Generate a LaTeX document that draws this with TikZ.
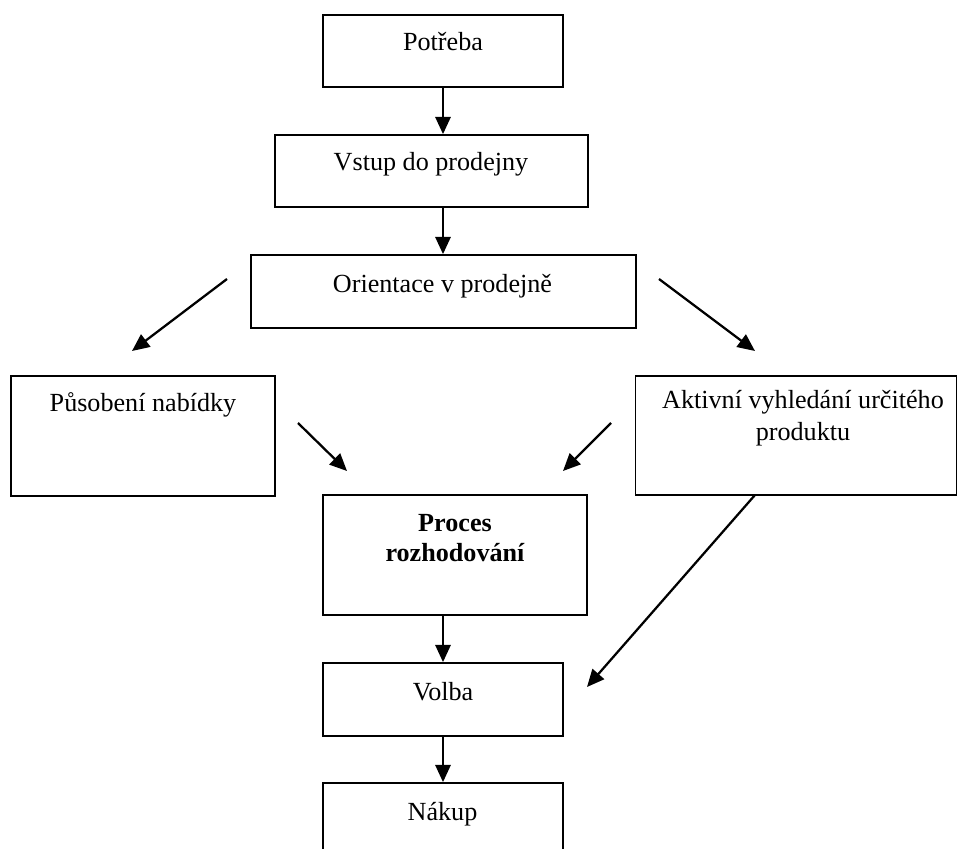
\documentclass[tikz,border=0pt]{standalone}
\usepackage{fontspec}
\setmainfont{Liberation Serif}
\usetikzlibrary{arrows.meta}

\tikzset{
  box/.style 2 args={draw, line width=1.3pt, inner sep=0pt, minimum width=#1*0.75pt, minimum height=#2*0.75pt},
  txt/.style={anchor=base, inner sep=0.75pt, align=center, font=\fontsize{19.6}{23.8}\selectfont},
  arr/.style={line width=1.7pt, -{Triangle[length=13pt,width=11.5pt]}},
}

\begin{document}
\begin{tikzpicture}[x=0.75pt,y=0.75pt,yscale=-1,xscale=1]
\useasboundingbox (0,0) rectangle (958,849);

%Shape: Rectangle
\node[box={240}{72}] (potreba) at (443,51) {};
\node[box={313}{72}] (vstup) at (431.5,171) {};
\node[box={385}{73}] (orient) at (443.5,291.5) {};
\node[box={264}{120}] (pusob) at (143,436) {};
\node[box={321}{119}] (aktiv) at (796,435.5) {};
\node[box={264}{120}] (proces) at (455,555) {};
\node[box={240}{73}] (volba) at (443,699.5) {};
\node[box={240}{72}] (nakup) at (443,819) {};

% Text Node
\node[txt] (t-potreba) at (443,51) {Potřeba};
\node[txt] (t-vstup) at (431,171) {Vstup do prodejny};
\node[txt] (t-orient) at (442.5,292) {Orientace v prodejně};
\node[txt] (t-pusob) at (143,411) {Působení nabídky};
% base = last line
\node[txt] (t-aktiv) at (803,440) {Aktivní vyhledání určitého\\produktu};
\node[txt,font=\fontsize{19.6}{22.5}\selectfont\bfseries] (t-proces) at (455,561) {Proces\\rozhodování};
\node[txt] (t-volba) at (443,700) {Volba};
\node[txt] (t-nakup) at (442.5,820) {Nákup};

%free arrow ends
\coordinate (o1) at (227,279);
\coordinate (p1) at (132,351);
\coordinate (o2) at (659,279);
\coordinate (a1) at (755,351);
\coordinate (p2) at (298,423);
\coordinate (r1) at (347,471);
\coordinate (a2) at (611,423);
\coordinate (r2) at (563,471);
\coordinate (a3) at (755,495);
\coordinate (v1) at (587,687);

% Arrows
\draw[arr] (potreba.south) -- (potreba.south |- vstup.north);
\draw[arr] (potreba.south |- vstup.south) -- (potreba.south |- orient.north);
\draw[arr] (o1) -- (p1);
\draw[arr] (o2) -- (a1);
\draw[arr] (p2) -- (r1);
\draw[arr] (a2) -- (r2);
\draw[arr] (a3) -- (v1);
\draw[arr] (volba.north |- proces.south) -- (volba.north);
\draw[arr] (volba.south) -- (nakup.north);

\end{tikzpicture}
\end{document}
